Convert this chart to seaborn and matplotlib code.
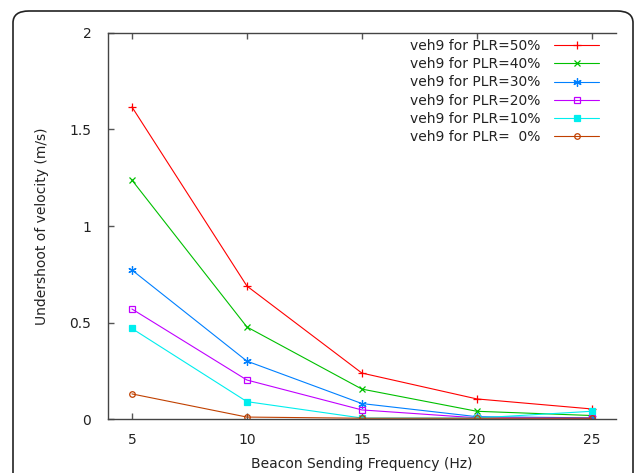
import matplotlib
matplotlib.use("Agg")
import matplotlib.pyplot as plt
from matplotlib.patches import FancyBboxPatch
import seaborn as sns
import pandas as pd

freq = [5, 10, 15, 20, 25]
plr_labels = ["veh9 for PLR=50%", "veh9 for PLR=40%", "veh9 for PLR=30%",
              "veh9 for PLR=20%", "veh9 for PLR=10%", "veh9 for PLR=  0%"]
plr50 = [1.617, 0.689, 0.238, 0.104, 0.052]
plr40 = [1.238, 0.477, 0.155, 0.040, 0.018]
plr30 = [0.772, 0.300, 0.080, 0.012, 0.006]
plr20 = [0.570, 0.202, 0.047, 0.006, 0.004]
plr10 = [0.469, 0.090, 0.005, 0.005, 0.040]
plr0 = [0.130, 0.010, 0.004, 0.004, 0.004]
y_ticks = [0, 0.5, 1, 1.5, 2]
y_tick_labels = ["0", "0.5", "1", "1.5", "2"]
x_ticks = [5, 10, 15, 20, 25]

series = [plr50, plr40, plr30, plr20, plr10, plr0]
colors = ["#ff0000", "#00c000", "#0080ff", "#c000ff", "#00eeee", "#c04000"]
markers = ["+", "x", (6, 2, 0), "s", "s", "o"]
sizes = [6, 5, 6, 5, 5, 4]
filled = [True, True, True, False, True, False]

sns.set_style("white")
plt.rcParams["font.family"] = ["DejaVu Sans"]

fig = plt.figure(figsize=(6.37, 4.73), dpi=100)
ax = fig.add_axes([108 / 637, 1 - 419 / 473, (616 - 108) / 637, (419 - 33) / 473])

for vals, lab, c, m, s, f in zip(series, plr_labels, colors, markers, sizes, filled):
    df = pd.DataFrame({"freq": freq, "val": vals})
    sns.lineplot(data=df, x="freq", y="val", ax=ax, color=c, marker=m, markersize=s,
                 linewidth=0.8, label=lab,
                 markerfacecolor=c if f else "none", markeredgecolor=c,
                 markeredgewidth=0.9)

ax.set_xlim(3.96, 26.05)
ax.set_ylim(0, 2)
ax.set_xticks(x_ticks)
ax.set_xticklabels([str(v) for v in x_ticks])
ax.set_yticks(y_ticks)
ax.set_yticklabels(y_tick_labels)
ax.tick_params(direction="in", length=4, width=1, colors="#555555", labelcolor="#222222",
               labelsize=10, top=True, bottom=True, left=True, right=False)
ax.tick_params(axis="x", pad=10)
ax.tick_params(axis="y", pad=12)
ax.spines["right"].set_visible(False)
for sp in ["left", "bottom", "top"]:
    ax.spines[sp].set_color("#444444")
    ax.spines[sp].set_linewidth(1.0)

ax.set_xlabel("Beacon Sending Frequency (Hz)", fontsize=10, color="#222222", labelpad=7)
ax.set_ylabel("Undershoot of velocity (m/s)", fontsize=10, color="#222222", labelpad=15)

leg = ax.legend(loc="upper right", frameon=False, markerfirst=False, fontsize=10,
                handlelength=3.2, labelspacing=0.31, borderaxespad=0, borderpad=0,
                handletextpad=1.0, bbox_to_anchor=(0.966, 0.985))
for t in leg.get_texts():
    t.set_color("#222222")

frame = FancyBboxPatch((13 / 637, -0.05), (633 - 13) / 637, 1.05 - 11 / 473,
                       boxstyle="round,pad=0,rounding_size=0.025",
                       transform=fig.transFigure, fill=False, edgecolor="#222222",
                       linewidth=1.2, clip_on=False)
fig.patches.append(frame)

fig.savefig("out.png", dpi=100)
